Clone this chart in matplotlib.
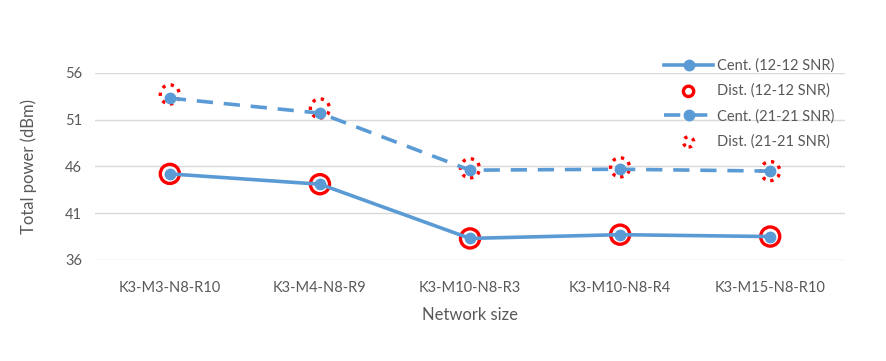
import matplotlib.pyplot as plt
from matplotlib.legend_handler import HandlerPathCollection

categories = ["K3-M3-N8-R10", "K3-M4-N8-R9", "K3-M10-N8-R3", "K3-M10-N8-R4", "K3-M15-N8-R10"]
cent_12 = [45.2, 44.1, 38.3, 38.7, 38.5]
dist_12 = [45.2, 44.1, 38.3, 38.7, 38.5]
cent_21 = [53.3, 51.7, 45.6, 45.7, 45.5]
dist_21 = [53.7, 52.2, 45.8, 45.9, 45.5]
yticks = [36, 41, 46, 51, 56]

blue = "#5B9BD5"
red = "#FF0000"
gray = "#595959"
plt.rcParams["font.family"] = ["Lato", "DejaVu Sans"]

fig = plt.figure(figsize=(8.86, 3.61), dpi=100)
ax = fig.add_axes([0.107, 0.28, 0.847, 0.518])
x = list(range(len(categories)))

ax.plot(x, cent_12, color=blue, lw=2.6, marker="o", ms=7.5, label="Cent. (12-12 SNR)", zorder=3)
ax.scatter(x, dist_12, s=190, facecolors="none", edgecolors=red, linewidths=2.4,
           label="Dist. (12-12 SNR)", zorder=2)
ax.plot(x, cent_21, color=blue, lw=2.6, ls=(0, (4.5, 3)), marker="o", ms=7.5,
        label="Cent. (21-21 SNR)", zorder=3)
ax.scatter(x, dist_21, s=190, facecolors="none", edgecolors=red, linewidths=2.4,
           linestyles=(0, (1, 1.6)), label="Dist. (21-21 SNR)", zorder=2)

ax.set_xlim(-0.5, 4.5)
ax.set_ylim(36, 56)
ax.set_yticks(yticks)
ax.set_xticks(x)
ax.set_xticklabels(categories)
ax.grid(axis="y", color="#D9D9D9", lw=1)
ax.set_axisbelow(True)
for s in ax.spines.values():
    s.set_visible(False)
ax.tick_params(axis="both", length=0, labelsize=10.5, colors=gray)
ax.tick_params(axis="x", pad=15)
ax.tick_params(axis="y", pad=9)

ax.set_xlabel("Network size", fontsize=12, color=gray, labelpad=9)
ax.set_ylabel("Total power (dBm)", fontsize=12, color=gray, labelpad=20)

leg = ax.legend(loc="upper right", bbox_to_anchor=(1.003, 1.147), frameon=False, fontsize=10.5,
                handlelength=3.3, labelspacing=0.75, handletextpad=0.3,
                handler_map={type(ax.collections[0]): HandlerPathCollection(sizes=[55])})
for t in leg.get_texts():
    t.set_color(gray)

fig.savefig("out.png", dpi=100)
